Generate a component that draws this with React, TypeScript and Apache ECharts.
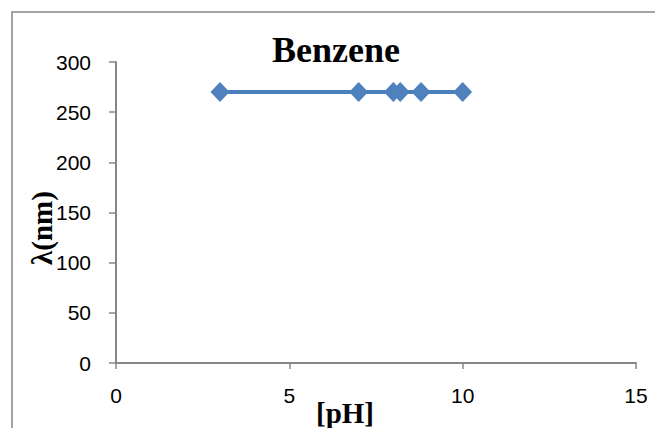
import React, { useEffect, useRef } from "react";
import * as echarts from "echarts";

const phValues = [3, 7, 8, 8.2, 8.8, 10];
const lambdaValues = [270, 270, 270, 270, 270, 270];
const xTicks = [0, 5, 10, 15];
const yTicks = [0, 50, 100, 150, 200, 250, 300];
const titleText = "Benzene";
const xName = "[pH]";
const yName = "λ(nm)";

export default function App() {
  const ref = useRef<HTMLDivElement>(null);
  useEffect(() => {
    document.body.style.margin = "0";
    const chart = echarts.init(ref.current!, null, { renderer: "svg" });
    const axisColor = "#868686";
    chart.setOption({
      animation: false,
      backgroundColor: "#ffffff",
      title: {
        text: titleText,
        left: 272,
        top: 32,
        padding: 0,
        textStyle: {
          fontFamily: "Liberation Serif",
          fontWeight: "bold",
          fontSize: 36,
          color: "#000000",
        },
      },
      grid: { left: 116, top: 62, right: 19, bottom: 65, containLabel: false },
      xAxis: {
        type: "value",
        min: xTicks[0],
        max: xTicks[xTicks.length - 1],
        interval: 5,
        splitLine: { show: false },
        axisLine: { show: true, onZero: false, lineStyle: { color: axisColor, width: 2 } },
        axisTick: { show: true, inside: false, length: 6, lineStyle: { color: axisColor, width: 1.5 } },
        axisLabel: {
          margin: 22,
          color: "#000000",
          fontFamily: "Liberation Sans",
          fontSize: 21,
          showMaxLabel: true,
          showMinLabel: true,
        },
      },
      yAxis: {
        type: "value",
        min: yTicks[0],
        max: yTicks[yTicks.length - 1],
        interval: 50,
        splitLine: { show: false },
        axisLine: { show: true, lineStyle: { color: axisColor, width: 2 } },
        axisTick: { show: true, inside: false, length: 7, lineStyle: { color: axisColor, width: 1.5 } },
        axisLabel: {
          margin: 25,
          color: "#000000",
          fontFamily: "Liberation Sans",
          fontSize: 21,
        },
      },
      graphic: [
        {
          type: "rect",
          shape: { x: 12, y: 12, width: 700, height: 500 },
          style: { fill: "none", stroke: "#868686", lineWidth: 1.5 },
          silent: true,
        },
        {
          type: "text",
          x: 345,
          y: 427,
          style: {
            text: xName,
            fontFamily: "Liberation Serif",
            fontWeight: "bold",
            fontSize: 29,
            fill: "#000000",
            textAlign: "center",
            textVerticalAlign: "bottom",
          },
        },
        {
          type: "text",
          x: 42,
          y: 228,
          rotation: Math.PI / 2,
          style: {
            text: yName,
            fontFamily: "Liberation Serif",
            fontWeight: "bold",
            fontSize: 29,
            fill: "#000000",
            textAlign: "center",
            textVerticalAlign: "middle",
          },
        },
      ],
      series: [
        {
          type: "line",
          data: phValues.map((x, i) => [x, lambdaValues[i]]),
          symbol: "diamond",
          symbolSize: [19, 20],
          showAllSymbol: true,
          lineStyle: { color: "#4A7EBB", width: 4 },
          itemStyle: { color: "#4F81BD" },
        },
      ],
    });
    return () => chart.dispose();
  }, []);
  return (
    <div
      ref={ref}
      style={{ position: "absolute", left: 0, top: 0, width: 655, height: 428 }}
    />
  );
}
